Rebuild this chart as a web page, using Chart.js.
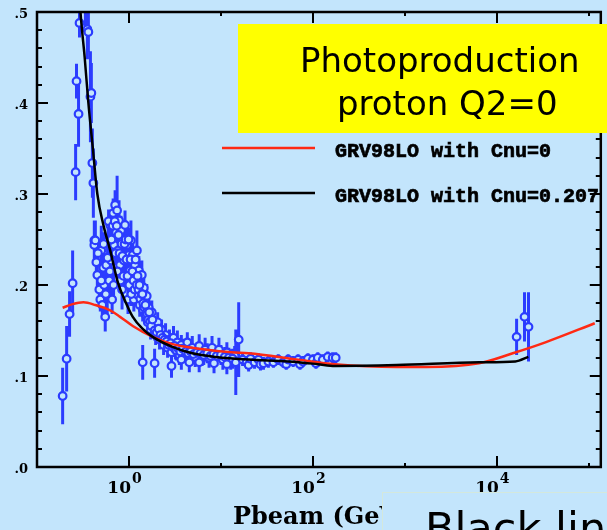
<!DOCTYPE html>
<html>
<head>
<meta charset="utf-8">
<script src="https://cdn.jsdelivr.net/npm/chart.js@4.4.0/dist/chart.umd.min.js"></script>
<style>
  html, body { margin: 0; padding: 0; background: #c3e5fc; }
  canvas { display: block; }
</style>
</head>
<body>
<canvas id="chart" width="607" height="530"></canvas>
<script>
// measured points: beam momentum (GeV), ratio, error
const pbeam = [
  0.190, 0.210, 0.226, 0.244, 0.263, 0.269, 0.283, 0.290, 0.336, 0.353, 0.362, 0.381, 0.390, 0.400, 0.410, 0.420, 0.420,
  0.431, 0.442, 0.453, 0.476, 0.488, 0.500, 0.513, 0.525, 0.538, 0.552, 0.566, 0.580, 0.594, 0.609, 0.625, 0.640,
  0.656, 0.673, 0.690, 0.707, 0.725, 0.743, 0.762, 0.780, 0.800, 0.820, 0.841, 0.862, 0.884, 0.906, 0.929, 0.952,
  0.976, 1.00, 1.025, 1.05, 1.077, 1.10, 1.13, 1.16, 1.19, 1.22, 1.25, 1.28, 1.31, 1.35, 1.38, 1.41, 1.45, 1.49,
  1.52, 1.56, 1.60, 1.64, 1.68, 1.72, 1.77, 1.86, 1.95, 2.05, 2.15, 2.26, 2.38, 2.50, 2.63, 2.76, 2.90, 3.05, 3.20,
  3.36, 3.53, 3.71, 4.00, 4.31, 4.53, 4.88, 5.25, 5.80, 6.25, 6.73, 7.43, 8.00, 8.62, 9.51, 10.5, 11.6, 12.8, 14.1,
  0.46, 0.50, 0.53, 0.56, 0.585, 0.60, 0.62, 0.645, 0.665, 0.68, 0.70, 0.715, 0.735, 0.75, 0.77, 0.79, 0.81, 0.83,
  0.85, 0.87, 0.895, 0.92, 0.94, 0.965, 0.99, 1.01, 1.04, 1.06, 1.09, 1.12, 1.15, 1.18, 1.21, 1.24, 1.27, 1.30,
  1.33, 1.37, 1.40, 1.43, 1.47, 1.51, 1.55, 1.58, 1.62, 1.66, 1.70, 1.75, 1.80, 1.90, 2.0, 2.1, 2.2, 2.32, 2.44,
  2.57, 2.70, 2.83, 2.98, 3.12, 3.28, 3.45, 3.62, 3.85, 4.15, 4.42, 4.7, 5.05, 5.5, 6.0, 6.5, 7.1, 7.7, 8.3, 9.0,
  10.0, 11.0, 12.2, 13.4,
  1.41, 1.90, 2.90, 15.6, 14.5,
  3.71, 4.53, 5.80, 8.41, 11.6,
  17.2, 19.0, 20.0, 21.0, 23.2, 25.6, 26.9, 29.0, 32.8, 37.2, 42.0, 47.6, 51.3, 53.8, 61.0, 69.0, 72.4, 78.0, 88.3,
  100, 108, 113, 128, 145, 164, 177,
  16400, 20000, 22100
];
const ratio = [
  0.078, 0.119, 0.168, 0.202, 0.324, 0.424, 0.388, 0.488, 0.508, 0.481, 0.478, 0.407, 0.411, 0.334, 0.312, 0.249, 0.244,
  0.249, 0.225, 0.211, 0.195, 0.184, 0.238, 0.178, 0.219, 0.200, 0.165, 0.222, 0.189, 0.249, 0.205, 0.266, 0.227,
  0.184, 0.279, 0.244, 0.288, 0.258, 0.282, 0.238, 0.271, 0.222, 0.260, 0.195, 0.249, 0.227, 0.266, 0.211, 0.244,
  0.184, 0.233, 0.216, 0.249, 0.200, 0.233, 0.184, 0.222, 0.205, 0.238, 0.189, 0.216, 0.178, 0.200, 0.211, 0.173, 0.197, 0.184,
  0.167, 0.188, 0.159, 0.175, 0.164, 0.151, 0.170, 0.156, 0.145, 0.159, 0.140, 0.151, 0.134, 0.145, 0.131, 0.140, 0.126, 0.142, 0.129,
  0.137, 0.123, 0.134, 0.126, 0.137, 0.123, 0.131, 0.121, 0.133, 0.122, 0.129, 0.120, 0.131, 0.121, 0.129, 0.118, 0.126, 0.118, 0.122,
  0.235, 0.205, 0.245, 0.190, 0.230, 0.270, 0.215, 0.250, 0.265, 0.200, 0.270, 0.235, 0.265, 0.215, 0.255, 0.235, 0.205, 0.245,
  0.232, 0.210, 0.245, 0.250, 0.228, 0.210, 0.250, 0.200, 0.228, 0.190, 0.215, 0.205, 0.195, 0.228, 0.200, 0.210, 0.195, 0.200,
  0.185, 0.190, 0.190, 0.180, 0.175, 0.178, 0.170, 0.168, 0.162, 0.170, 0.160, 0.155, 0.162, 0.150, 0.148, 0.152, 0.145, 0.142, 0.140,
  0.138, 0.134, 0.136, 0.132, 0.133, 0.128, 0.130, 0.127, 0.130, 0.127, 0.125, 0.127, 0.124, 0.126, 0.125, 0.123, 0.125, 0.122, 0.124, 0.122,
  0.123, 0.121, 0.120, 0.119,
  0.115, 0.114, 0.111, 0.140, 0.115,
  0.118, 0.115, 0.115, 0.114, 0.113,
  0.118, 0.115, 0.112, 0.119, 0.115, 0.118, 0.113, 0.114, 0.116, 0.115, 0.118, 0.115, 0.113, 0.118, 0.116, 0.118, 0.113, 0.116, 0.119,
  0.118, 0.114, 0.120, 0.118, 0.121, 0.120, 0.120,
  0.143, 0.165, 0.154
];
const ratioErr = [
  0.031, 0.036, 0.025, 0.036, 0.031, 0.019, 0.036, 0.016, 0.027, 0.033, 0.022, 0.050, 0.033, 0.038, 0.038, 0.022, 0.016,
  0.022, 0.016, 0.013, 0.016, 0.013, 0.027, 0.016, 0.016, 0.020, 0.016, 0.013, 0.022, 0.020, 0.016, 0.016, 0.020,
  0.016, 0.016, 0.016, 0.016, 0.016, 0.038, 0.016, 0.022, 0.016, 0.016, 0.022, 0.016, 0.013, 0.016, 0.016, 0.016,
  0.016, 0.016, 0.016, 0.022, 0.016, 0.016, 0.013, 0.016, 0.013, 0.022, 0.013, 0.016, 0.013, 0.016, 0.016, 0.013, 0.016, 0.013,
  0.011, 0.013, 0.011, 0.013, 0.011, 0.011, 0.013, 0.011, 0.011, 0.011, 0.011, 0.011, 0.011, 0.013, 0.011, 0.011, 0.011, 0.013, 0.011,
  0.013, 0.011, 0.011, 0.011, 0.011, 0.011, 0.013, 0.011, 0.013, 0.011, 0.013, 0.011, 0.013, 0.011, 0.013, 0.011, 0.011, 0.011, 0.011,
  0.013, 0.013, 0.013, 0.013, 0.013, 0.013, 0.013, 0.013, 0.013, 0.013, 0.013, 0.013, 0.013, 0.013, 0.013, 0.013, 0.013, 0.013,
  0.013, 0.013, 0.013, 0.013, 0.013, 0.013, 0.013, 0.013, 0.013, 0.013, 0.013, 0.013, 0.013, 0.013, 0.013, 0.013, 0.013, 0.013,
  0.013, 0.013, 0.013, 0.011, 0.011, 0.011, 0.011, 0.011, 0.011, 0.011, 0.011, 0.011, 0.011, 0.011, 0.011, 0.011, 0.011, 0.011, 0.011,
  0.011, 0.011, 0.011, 0.011, 0.011, 0.011, 0.011, 0.011, 0.011, 0.011, 0.011, 0.011, 0.011, 0.011, 0.011, 0.011, 0.011, 0.011, 0.011, 0.011,
  0.011, 0.011, 0.011, 0.011,
  0.019, 0.016, 0.013, 0.041, 0.036,
  0.011, 0.011, 0.011, 0.011, 0.011,
  0.007, 0.007, 0.007, 0.007, 0.007, 0.007, 0.007, 0.007, 0.007, 0.006, 0.006, 0.006, 0.006, 0.006, 0.006, 0.006, 0.006, 0.006, 0.006,
  0.006, 0.006, 0.006, 0.006, 0.006, 0.006, 0.006,
  0.020, 0.027, 0.038
];

// GRV98LO with Cnu=0 (red)
const redX = [0.19, 0.244, 0.32, 0.431, 0.625, 0.80, 1.10, 1.81, 2.97, 5.8, 13.1, 20, 69, 173, 815, 1700, 6400, 14900, 33700, 116000];
const redY = [0.175, 0.179, 0.181, 0.178, 0.172, 0.165, 0.155, 0.143, 0.135, 0.130, 0.126, 0.125, 0.118, 0.113, 0.110, 0.110, 0.114, 0.125, 0.137, 0.158];

// GRV98LO with Cnu=0.207 (black)
const blackX = [0.28, 0.297, 0.33, 0.362, 0.405, 0.453, 0.53, 0.625, 0.762, 0.93, 1.10, 1.40, 1.81, 2.97, 4.88, 8.8, 20, 54, 113, 173, 815, 6400, 15900, 22000];
const blackY = [0.545, 0.50, 0.45, 0.40, 0.35, 0.30, 0.265, 0.238, 0.202, 0.18, 0.165, 0.152, 0.143, 0.132, 0.125, 0.121, 0.118, 0.116, 0.113, 0.111, 0.112, 0.115, 0.116, 0.121];

const yMajor = [0, 0.1, 0.2, 0.3, 0.4, 0.5];
const yLabels = ['.0', '.1', '.2', '.3', '.4', '.5'];
const yMinorStep = 0.02;
const xDecades = [1, 10, 100, 1000, 10000, 100000];
const xExponents = ['0', '', '2', '', '4', ''];

const bg = '#c3e5fc';
const blue = '#2b3cff';

const errorBars = {
  id: 'errorBars',
  beforeDatasetsDraw(chart) {
    const { ctx, chartArea: a, scales: { x, y } } = chart;
    ctx.save();
    ctx.beginPath();
    ctx.rect(a.left, a.top, a.right - a.left, a.bottom - a.top);
    ctx.clip();
    ctx.strokeStyle = blue;
    ctx.lineWidth = 3;
    ctx.beginPath();
    pbeam.forEach((p, i) => {
      const px = x.getPixelForValue(p);
      ctx.moveTo(px, y.getPixelForValue(ratio[i] - ratioErr[i]));
      ctx.lineTo(px, y.getPixelForValue(ratio[i] + ratioErr[i]));
    });
    ctx.stroke();
    ctx.restore();
  }
};

// bold text with a thin outline so it reads as heavy as the original
function heavyText(ctx, txt, x, y) {
  ctx.fillText(txt, x, y);
  ctx.strokeText(txt, x, y);
}

const decorations = {
  id: 'decorations',
  afterDraw(chart) {
    const { ctx, chartArea: a, scales: { x, y } } = chart;
    ctx.save();

    // legend
    ctx.lineWidth = 2.5;
    ctx.font = 'bold 20px "Liberation Mono"';
    ctx.textBaseline = 'alphabetic';
    ctx.textAlign = 'left';
    ctx.fillStyle = '#000';
    ctx.strokeStyle = '#ff2a14';
    ctx.beginPath(); ctx.moveTo(222, 148); ctx.lineTo(315, 148); ctx.stroke();
    ctx.strokeStyle = '#000';
    ctx.beginPath(); ctx.moveTo(222, 193); ctx.lineTo(315, 193); ctx.stroke();
    ctx.lineWidth = 0.7;
    heavyText(ctx, 'GRV98LO with Cnu=0', 335, 157);
    heavyText(ctx, 'GRV98LO with Cnu=0.207', 335, 202);

    // frame
    ctx.strokeStyle = '#000';
    ctx.lineWidth = 2.5;
    ctx.strokeRect(a.left, a.top, a.right - a.left, a.bottom - a.top);

    // y ticks, both sides
    ctx.lineWidth = 2;
    ctx.beginPath();
    for (let v = 0; v <= 0.5001; v += yMinorStep) {
      const py = Math.round(y.getPixelForValue(v));
      const major = yMajor.some(m => Math.abs(m - v) < 1e-6);
      const len = major ? 11 : 5;
      ctx.moveTo(a.left, py); ctx.lineTo(a.left + len, py);
      ctx.moveTo(a.right, py); ctx.lineTo(a.right - len, py);
    }
    // x ticks, top and bottom
    xDecades.forEach((d, i) => {
      const px = Math.round(x.getPixelForValue(d));
      const len = xExponents[i] ? 11 : 4;
      ctx.moveTo(px, a.bottom); ctx.lineTo(px, a.bottom - len);
      ctx.moveTo(px, a.top); ctx.lineTo(px, a.top + len);
    });
    ctx.stroke();

    // y labels
    ctx.font = 'bold 13px "DejaVu Serif"';
    ctx.textAlign = 'right';
    ctx.textBaseline = 'middle';
    yMajor.forEach((v, i) => {
      ctx.fillText(yLabels[i], 28, y.getPixelForValue(v) + 3);
    });

    // yellow title box
    ctx.fillStyle = '#ffff00';
    ctx.fillRect(238, 24, 369, 109);
    ctx.fillStyle = '#000';
    ctx.textAlign = 'left';
    ctx.textBaseline = 'alphabetic';
    ctx.font = '34px "DejaVu Sans"';
    ctx.fillText('Photoproduction', 300, 72);
    ctx.fillText('proton Q2=0', 337, 115);

    // x labels 10^n
    xDecades.forEach((d, i) => {
      if (!xExponents[i]) return;
      const px = x.getPixelForValue(d);
      ctx.font = 'bold 17px "DejaVu Serif"';
      ctx.textAlign = 'right';
      ctx.fillText('10', px + 2, 493);
      ctx.font = 'bold 14px "DejaVu Serif"';
      ctx.textAlign = 'left';
      ctx.fillText(xExponents[i], px + 3, 483);
    });

    // axis title
    ctx.font = 'bold 24px "DejaVu Serif"';
    ctx.textAlign = 'left';
    ctx.fillText('Pbeam (GeV)', 233, 524);

    // overlapping note box
    ctx.fillStyle = bg;
    ctx.fillRect(382, 492, 230, 40);
    ctx.strokeStyle = '#d4e8dc';
    ctx.lineWidth = 1;
    ctx.strokeRect(382.5, 492.5, 230, 40);
    ctx.fillStyle = '#000';
    ctx.font = '43px "DejaVu Sans"';
    ctx.fillText('Black line', 425, 543);

    ctx.restore();
  }
};

const ctx = document.getElementById('chart').getContext('2d');
new Chart(ctx, {
  type: 'scatter',
  data: {
    datasets: [
      {
        label: 'GRV98LO with Cnu=0.207',
        type: 'line',
        data: blackX.map((v, i) => ({ x: v, y: blackY[i] })),
        borderColor: '#000',
        borderWidth: 2.5,
        pointRadius: 0,
        cubicInterpolationMode: 'monotone',
        order: 1
      },
      {
        label: 'GRV98LO with Cnu=0',
        type: 'line',
        data: redX.map((v, i) => ({ x: v, y: redY[i] })),
        borderColor: '#ff2a14',
        borderWidth: 2.5,
        pointRadius: 0,
        cubicInterpolationMode: 'monotone',
        order: 2
      },
      {
        label: 'data',
        data: pbeam.map((v, i) => ({ x: v, y: ratio[i] })),
        pointRadius: 3.8,
        pointBorderWidth: 2.2,
        pointBorderColor: blue,
        pointBackgroundColor: bg,
        order: 3
      }
    ]
  },
  options: {
    responsive: false,
    animation: false,
    devicePixelRatio: 1,
    layout: { padding: { left: 37, right: 4, top: 12, bottom: 63 } },
    plugins: { legend: { display: false }, tooltip: { enabled: false } },
    scales: {
      x: { type: 'logarithmic', min: 0.1, max: 135000, display: false },
      y: { min: 0, max: 0.5, display: false }
    }
  },
  plugins: [errorBars, decorations]
});
</script>
</body>
</html>
